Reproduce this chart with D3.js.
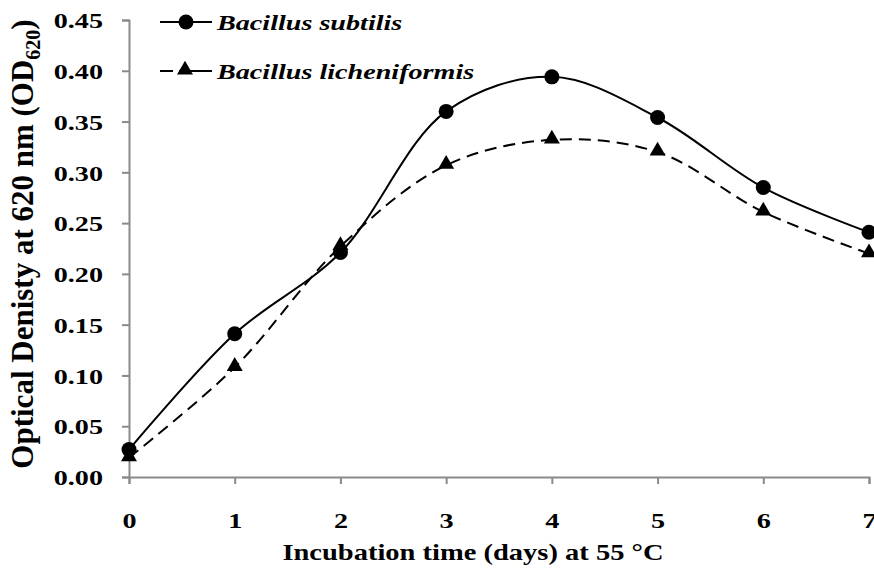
<!DOCTYPE html>
<html>
<head>
<meta charset="utf-8">
<script src="https://cdn.jsdelivr.net/npm/d3@7"></script>
<style>
  body { margin: 0; background: #fff; }
  svg text { font-family: "Liberation Serif", "Times New Roman", serif; font-weight: bold; fill: #000; }
</style>
</head>
<body>
<div id="chart"></div>
<script>
// days of incubation
var days = [0, 1, 2, 3, 4, 5, 6, 7];
// OD620
var subtilis = [0.027, 0.141, 0.221, 0.360, 0.394, 0.354, 0.285, 0.241];
var licheniformis = [0.019, 0.108, 0.227, 0.307, 0.332, 0.320, 0.261, 0.220];
var yTicks = [0, 0.05, 0.10, 0.15, 0.20, 0.25, 0.30, 0.35, 0.40, 0.45];
var seriesNames = ["Bacillus subtilis", "Bacillus licheniformis"];

var width = 874, height = 574;
var mLeft = 129, mRight = 869, mTop = 20, mBottom = 477;
var sx = 1.28; // text in the figure is drawn a bit wide

var svg = d3.select("#chart").append("svg")
    .attr("width", width)
    .attr("height", height);

var x = d3.scaleLinear().domain([0, 7]).range([mLeft, mRight]);
var y = d3.scaleLinear().domain([0, 0.45]).range([mBottom, mTop]);

var axisColor = "#8a8a8a";

// widen a text horizontally while keeping its anchor point
function widen(sel, k) {
    sel.each(function() {
        var t = d3.select(this);
        var x0 = +t.attr("x") || 0;
        t.attr("x", x0 / k).attr("transform", "scale(" + k + ",1)");
    });
}

// y axis
var gy = svg.append("g")
    .attr("transform", "translate(" + mLeft + ",0)")
    .call(d3.axisLeft(y).tickValues(yTicks).tickSize(7).tickPadding(19).tickFormat(d3.format(".2f")));
// x axis
var gx = svg.append("g")
    .attr("transform", "translate(0," + mBottom + ")")
    .call(d3.axisBottom(x).tickValues(days).tickSize(7).tickPadding(28).tickFormat(d3.format("d")));

[gx, gy].forEach(function(g) {
    g.select(".domain").attr("stroke", axisColor).attr("stroke-width", 2);
    g.selectAll(".tick line").attr("stroke", axisColor).attr("stroke-width", 2);
    g.selectAll(".tick text").attr("font-size", 22).attr("fill", "#000")
        .style("font-family", "'Liberation Serif', serif").style("font-weight", "bold");
    widen(g.selectAll(".tick text"), sx);
});
gy.selectAll(".tick text").attr("dy", "0.35em");

// lines
var line = d3.line()
    .x(function(d, i) { return x(days[i]); })
    .y(function(d) { return y(d); })
    .curve(d3.curveCatmullRom.alpha(0.5));

svg.append("path")
    .datum(subtilis)
    .attr("d", line)
    .attr("fill", "none")
    .attr("stroke", "#000")
    .attr("stroke-width", 2);

svg.append("path")
    .datum(licheniformis)
    .attr("d", line)
    .attr("fill", "none")
    .attr("stroke", "#000")
    .attr("stroke-width", 2)
    .attr("stroke-dasharray", "12,7");

var tri = d3.symbol().type(d3.symbolTriangle).size(110);

svg.append("g").selectAll("circle")
    .data(subtilis)
    .enter().append("circle")
    .attr("cx", function(d, i) { return x(days[i]); })
    .attr("cy", function(d) { return y(d); })
    .attr("r", 7.5)
    .attr("fill", "#000");

svg.append("g").selectAll("path")
    .data(licheniformis)
    .enter().append("path")
    .attr("d", tri)
    .attr("transform", function(d, i) { return "translate(" + x(days[i]) + "," + (y(d) - 1) + ")"; })
    .attr("fill", "#000");

// legend
var legend = svg.append("g");
var rowY = [22, 71];
legend.append("line")
    .attr("x1", 160).attr("x2", 212).attr("y1", rowY[0]).attr("y2", rowY[0])
    .attr("stroke", "#000").attr("stroke-width", 2);
legend.append("circle")
    .attr("cx", 186).attr("cy", rowY[0]).attr("r", 7.5).attr("fill", "#000");
legend.append("line")
    .attr("x1", 160).attr("x2", 212).attr("y1", rowY[1]).attr("y2", rowY[1])
    .attr("stroke", "#000").attr("stroke-width", 2).attr("stroke-dasharray", "13,6,40");
legend.append("path")
    .attr("d", tri)
    .attr("transform", "translate(185," + (rowY[1] - 1) + ")")
    .attr("fill", "#000");
var lt = legend.selectAll("text")
    .data(seriesNames)
    .enter().append("text")
    .attr("x", 217)
    .attr("y", function(d, i) { return rowY[i]; })
    .attr("dy", "0.35em")
    .attr("font-size", 22)
    .attr("font-style", "italic")
    .text(function(d) { return d; });
widen(lt, sx);

// axis titles
var xt = svg.append("text")
    .attr("x", 473)
    .attr("y", 560)
    .attr("text-anchor", "middle")
    .attr("font-size", 23)
    .text("Incubation time (days) at 55 \u00B0C");
widen(xt, 1.24);

var yt = svg.append("text")
    .attr("transform", "translate(33,244) rotate(-90)")
    .attr("text-anchor", "middle")
    .attr("font-size", 31);
yt.append("tspan").text("Optical Denisty at 620 nm (OD");
yt.append("tspan").attr("font-size", 20).attr("dy", 7).text("620");
yt.append("tspan").attr("dy", -7).text(")");
</script>
</body>
</html>
